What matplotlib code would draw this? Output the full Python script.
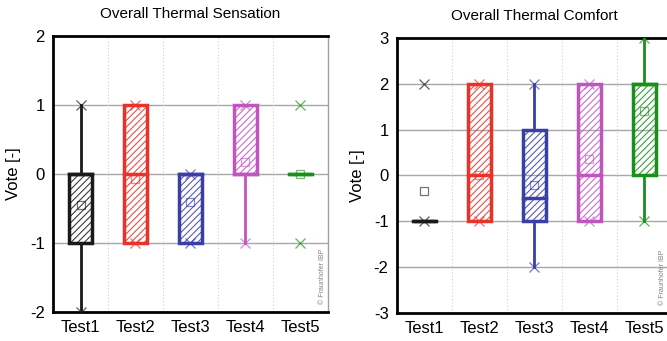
import matplotlib
matplotlib.use("Agg")
import matplotlib.pyplot as plt
from matplotlib.colors import to_rgba

plt.rcParams['font.family'] = ['Liberation Sans', 'DejaVu Sans']
plt.rcParams['hatch.linewidth'] = 0.8
plt.rcParams['axes.unicode_minus'] = False

tests = ["Test1", "Test2", "Test3", "Test4", "Test5"]
colors = ["#1a1a1a", "#e8322a", "#3a3fa8", "#c055c0", "#1a901a"]

# Overall Thermal Sensation
sens_q1 = [-1, -1, -1, 0, 0]
sens_q3 = [0, 1, 0, 1, 0]
sens_med = [0, 0, 0, 0, 0]
sens_mean = [-0.45, -0.07, -0.4, 0.18, 0.0]
sens_wlo = [-2, -1, -1, -1, 0]
sens_whi = [1, 1, 0, 1, 0]
sens_min = [-2, -1, -1, -1, -1]
sens_max = [1, 1, 0, 1, 1]

# Overall Thermal Comfort
comf_q1 = [-1, -1, -1, -1, 0]
comf_q3 = [-1, 2, 1, 2, 2]
comf_med = [-1, 0, -0.5, 0, 2]
comf_mean = [-0.33, 0.02, -0.2, 0.35, 1.4]
comf_wlo = [-1, -1, -2, -1, -1]
comf_whi = [-1, 2, 2, 2, 3]
comf_min = [-1, -1, -2, -1, -1]
comf_max = [2, 2, 2, 2, 3]


def light(c, a=0.75):
    r, g, b, _ = to_rgba(c)
    return (r, g, b, a)


def draw_boxes(ax, q1, q3, med, mean, wlo, whi, vmin, vmax):
    x = list(range(1, len(tests) + 1))
    w = 0.42
    for i, xi in enumerate(x):
        c = colors[i]
        # whiskers
        if wlo[i] < q1[i]:
            ax.plot([xi, xi], [wlo[i], q1[i]], color=c, lw=2, zorder=3)
        if whi[i] > q3[i]:
            ax.plot([xi, xi], [q3[i], whi[i]], color=c, lw=2, zorder=3)
        # hatched box
        ax.bar(xi, q3[i] - q1[i], bottom=q1[i], width=w, color='none',
               edgecolor=light(c, 0.85), hatch='/////', linewidth=0, zorder=3)
        ax.bar(xi, q3[i] - q1[i], bottom=q1[i], width=w, fill=False,
               edgecolor=c, linewidth=2.5, zorder=4)
        # median
        ax.plot([xi - w / 2, xi + w / 2], [med[i], med[i]], color=c, lw=2.5, zorder=4)
        # min / max markers
        ax.plot([xi, xi], [vmin[i], vmax[i]], linestyle='none', marker='x',
                markersize=7, markeredgewidth=0.9, color=light(c, 0.7), zorder=5)
        # mean
        ax.plot(xi, mean[i], linestyle='none', marker='s', markersize=6,
                markerfacecolor='none', markeredgewidth=0.9,
                markeredgecolor=light(c, 0.6), zorder=5)


def style_axes(ax, ylim, title):
    ax.set_xlim(0.5, 5.5)
    ax.set_ylim(*ylim)
    ax.set_yticks(range(ylim[0], ylim[1] + 1))
    ax.set_xticks(range(1, 6))
    ax.set_xticklabels(tests)
    ax.tick_params(length=0, labelsize=12, pad=6)
    for y in range(ylim[0] + 1, ylim[1]):
        ax.axhline(y, color='#a8a8a8', lw=1, zorder=1)
    for xv in [1.5, 2.5, 3.5, 4.5]:
        ax.axvline(xv, color='#d0d0d0', lw=0.8, linestyle=(0, (1, 2)), zorder=1)
    for s in ['left', 'top', 'bottom']:
        ax.spines[s].set_color('black')
        ax.spines[s].set_linewidth(2)
    ax.spines['right'].set_color('#a0a0a0')
    ax.spines['right'].set_linewidth(1)
    ax.set_ylabel("Vote [-]", fontsize=12, labelpad=6)
    ax.set_title(title, fontsize=11, pad=13)


fig = plt.figure(figsize=(6.67, 3.41), dpi=100)
ax1 = fig.add_axes([0.0795, 0.085, 0.412, 0.809])
ax2 = fig.add_axes([0.595, 0.082, 0.412, 0.807])

draw_boxes(ax1, sens_q1, sens_q3, sens_med, sens_mean, sens_wlo, sens_whi, sens_min, sens_max)
style_axes(ax1, (-2, 2), "Overall Thermal Sensation")
ax1.text(0.982, 0.03, "© Fraunhofer IBP", transform=ax1.transAxes, rotation=90,
         fontsize=5, color='#808080', ha='center', va='bottom')

draw_boxes(ax2, comf_q1, comf_q3, comf_med, comf_mean, comf_wlo, comf_whi, comf_min, comf_max)
style_axes(ax2, (-3, 3), "Overall Thermal Comfort")
ax2.text(0.967, 0.03, "© Fraunhofer IBP", transform=ax2.transAxes, rotation=90,
         fontsize=5, color='#808080', ha='center', va='bottom')

fig.savefig("out.png", dpi=100)
